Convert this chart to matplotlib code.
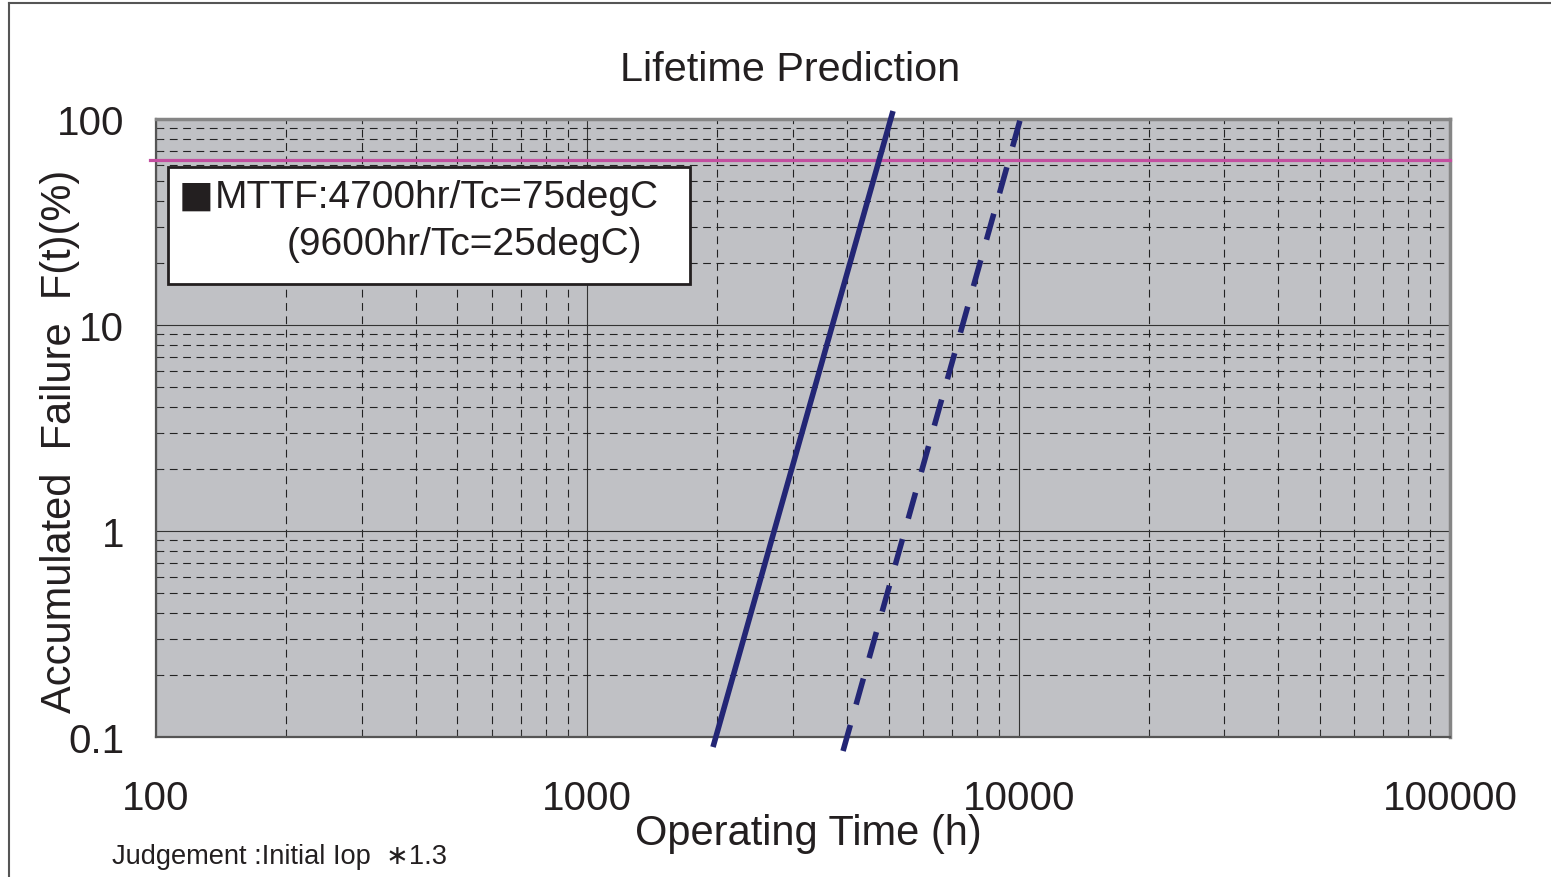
import matplotlib
matplotlib.use('Agg')
import matplotlib.pyplot as plt
from matplotlib.lines import Line2D
from matplotlib.patches import Rectangle
from matplotlib.ticker import FixedLocator, LogLocator, NullFormatter

# data
solid_time = [1956, 5113]
solid_fail = [0.0894, 109.3]
dashed_time = [3916, 10076]
dashed_fail = [0.0855, 98.9]
char_life = 63.2
x_ticks = [100, 1000, 10000, 100000]
x_labels = ['100', '1000', '10000', '100000']
y_ticks = [0.1, 1, 10, 100]
y_labels = ['0.1', '1', '10', '100']

plt.rcParams['font.family'] = ['Liberation Sans', 'DejaVu Sans']

NAVY = '#232675'
MAGENTA = '#C34FA0'
INK = '#231F20'

fig = plt.figure(figsize=(15.51, 8.78), dpi=100)
ax = fig.add_axes([156/1551, 1-738/878, 1294/1551, 618/878])
ax.set_facecolor('#C0C1C5')
ax.set_xscale('log')
ax.set_yscale('log')
ax.set_xlim(100, 100000)
ax.set_ylim(0.1, 100)

ax.xaxis.set_major_locator(FixedLocator(x_ticks))
ax.set_xticklabels(x_labels)
ax.yaxis.set_major_locator(FixedLocator(y_ticks))
ax.set_yticklabels(y_labels)
ax.xaxis.set_minor_locator(LogLocator(base=10, subs=range(2, 10)))
ax.yaxis.set_minor_locator(LogLocator(base=10, subs=range(2, 10)))
ax.xaxis.set_minor_formatter(NullFormatter())
ax.yaxis.set_minor_formatter(NullFormatter())
ax.tick_params(which='major', length=0, labelsize=29, colors=INK)
ax.tick_params(axis='x', which='major', pad=30.5)
ax.tick_params(axis='y', which='major', pad=23)
ax.tick_params(which='minor', direction='in', length=4, color='#333333')

ax.grid(which='major', color='#333333', lw=0.8, ls='-')
ax.grid(which='minor', color='#222222', lw=0.8, ls=(0, (7, 5)))
ax.set_axisbelow(True)

for s in ['top', 'right']:
    ax.spines[s].set_color('#858585')
    ax.spines[s].set_linewidth(2.5)
for s in ['left', 'bottom']:
    ax.spines[s].set_color('#555555')
    ax.spines[s].set_linewidth(1.6)

# characteristic life line (63.2 %)
ax.axhline(char_life, xmin=-0.0046, xmax=1, color=MAGENTA, lw=2.3, clip_on=False, zorder=3)

ax.plot(solid_time, solid_fail, color=NAVY, lw=4, clip_on=False, zorder=4,
        solid_capstyle='butt')
ax.plot(dashed_time, dashed_fail, color=NAVY, lw=4, clip_on=False, zorder=4,
        ls=(0, (4.86, 3.83)), dash_capstyle='butt')

# legend box
ax.add_patch(Rectangle((0.0093, 0.733), 0.4034, 0.1893, transform=ax.transAxes,
                       facecolor='white', edgecolor=INK, lw=2, zorder=5))
ax.text(0.0178, 0.8770, '\u25a0', transform=ax.transAxes, family='DejaVu Sans',
        fontsize=26.5, va='center', ha='left', color=INK, zorder=6)
ax.text(0.0456, 0.8738, 'MTTF:4700hr/Tc=75degC', transform=ax.transAxes,
        fontsize=28, va='center', ha='left', color=INK, zorder=6)
ax.text(0.1012, 0.7977, '(9600hr/Tc=25degC)', transform=ax.transAxes,
        fontsize=28, va='center', ha='left', color=INK, zorder=6)

# labels
fig.text(790/1551, 1-70/878, 'Lifetime Prediction', fontsize=29.8,
         ha='center', va='center', color=INK)
fig.text(808/1551, 1-834/878, 'Operating Time (h)', fontsize=30,
         ha='center', va='center', color=INK)
fig.text(60/1551, 1-441/878, 'Accumulated  Failure  F(t)(%)', fontsize=30,
         rotation=90, ha='center', va='center', color=INK)
fig.text(112/1551, 1-857/878, 'Judgement :Initial Iop  \u22171.3', fontsize=19.6,
         ha='left', va='center', color=INK)

# outer frame
fig.add_artist(Line2D([9/1551, 9/1551], [0, 1-4/878], transform=fig.transFigure,
                      color='#555555', lw=1.5))
fig.add_artist(Line2D([9/1551, 1], [1-4/878, 1-4/878], transform=fig.transFigure,
                      color='#555555', lw=1.5))

fig.savefig('out.png', dpi=100)
